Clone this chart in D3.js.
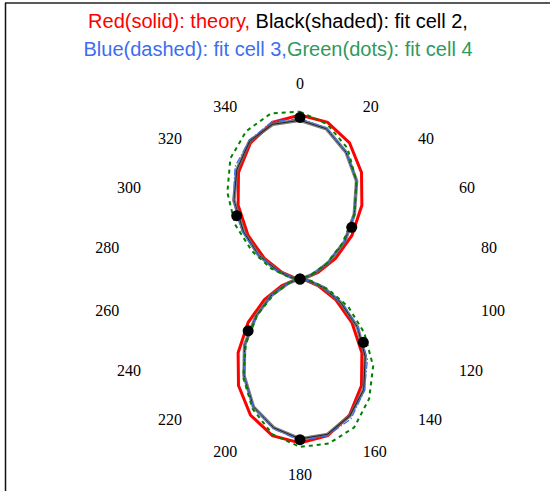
<!DOCTYPE html>
<html>
<head>
<meta charset="utf-8">
<script src="https://cdn.jsdelivr.net/npm/d3@7"></script>
<style>
  body { margin: 0; background: #fff; }
  svg { display: block; }
</style>
</head>
<body>
<svg id="chart"></svg>
<script>
const width = 550, height = 491;
const cx = 300, cy = 279;

// sampled angles (degrees, clockwise from top)
const angles = d3.range(0, 360, 10);

const theory = [
	1.000, 0.970, 0.883, 0.750, 0.587, 0.413, 0.250, 0.117, 0.030,
	0.000, 0.030, 0.117, 0.250, 0.413, 0.587, 0.750, 0.883, 0.970,
	1.000, 0.970, 0.883, 0.750, 0.587, 0.413, 0.250, 0.117, 0.030,
	0.000, 0.030, 0.117, 0.250, 0.413, 0.587, 0.750, 0.883, 0.970
];
const fitCell2 = [
	0.968, 0.930, 0.822, 0.690, 0.515, 0.356, 0.198, 0.086, 0.016,
	0.004, 0.047, 0.152, 0.286, 0.458, 0.618, 0.778, 0.888, 0.962,
	0.975, 0.921, 0.830, 0.682, 0.526, 0.349, 0.205, 0.080, 0.014,
	0.003, 0.051, 0.146, 0.292, 0.450, 0.627, 0.770, 0.896, 0.958
];
const fitCell3 = [
	0.978, 0.935, 0.825, 0.688, 0.514, 0.352, 0.193, 0.081, 0.012,
	0.004, 0.056, 0.155, 0.304, 0.464, 0.640, 0.786, 0.908, 0.970,
	0.985, 0.928, 0.832, 0.681, 0.522, 0.345, 0.199, 0.077, 0.014,
	0.005, 0.052, 0.159, 0.298, 0.470, 0.632, 0.792, 0.902, 0.975
];
const fitCell4 = [
	1.020, 0.958, 0.848, 0.688, 0.518, 0.336, 0.186, 0.067, 0.009,
	0.007, 0.070, 0.182, 0.341, 0.512, 0.694, 0.843, 0.964, 1.018,
	1.024, 0.962, 0.844, 0.693, 0.513, 0.341, 0.182, 0.071, 0.008,
	0.008, 0.068, 0.186, 0.337, 0.517, 0.689, 0.849, 0.959, 1.025
];

// measured points
const pointAngles = [0, 45, 90, 135, 180, 225, 270, 315];
const pointValues = [0.985, 0.446, 0, 0.546, 0.98, 0.447, 0, 0.546];

const tickLabels = d3.range(0, 360, 20);

const svg = d3.select("#chart")
	.attr("width", width)
	.attr("height", height);

// frame
svg.append("line")
	.attr("x1", 5).attr("y1", 3).attr("x2", width).attr("y2", 3)
	.attr("stroke", "#222").attr("stroke-width", 1.5);
svg.append("line")
	.attr("x1", 5.5).attr("y1", 3).attr("x2", 5.5).attr("y2", height)
	.attr("stroke", "#111").attr("stroke-width", 1.5);

// title
const title = svg.append("g")
	.attr("font-family", "Liberation Sans, Arial, sans-serif")
	.attr("font-size", 20)
	.attr("text-anchor", "middle");

const line1 = title.append("text").attr("x", 278).attr("y", 28);
line1.append("tspan").attr("fill", "#ff0000").text("Red(solid): theory, ");
line1.append("tspan").attr("fill", "#000").text("Black(shaded): fit cell 2,");

const line2 = title.append("text").attr("x", 278).attr("y", 56);
line2.append("tspan").attr("fill", "#3d6ef0").text("Blue(dashed): fit cell 3,");
line2.append("tspan").attr("fill", "#2e9a5c").text("Green(dots): fit cell 4");

const plot = svg.append("g").attr("transform", `translate(${cx}, ${cy})`);

const r = d3.scaleLinear().domain([0, 1]).range([0, 164]);
const rad = d => d * Math.PI / 180;

const radial = d3.lineRadial()
	.angle((d, i) => rad(angles[i]))
	.radius(d => r(d))
	.curve(d3.curveLinearClosed);

// angle labels: left/right aligned on the sides, centred (and pushed out) at top and bottom
const labelR = r(1.12);
const side = d => {
	const s = Math.sin(rad(d));
	return s > 0.01 ? 1 : s < -0.01 ? -1 : 0;
};
plot.selectAll(".tick-label")
	.data(tickLabels)
	.enter()
	.append("text")
	.attr("class", "tick-label")
	.attr("font-family", "Liberation Serif, Times New Roman, serif")
	.attr("font-size", 16)
	.attr("text-anchor", d => side(d) > 0 ? "start" : side(d) < 0 ? "end" : "middle")
	.attr("dominant-baseline", "central")
	.attr("x", d => labelR * Math.sin(rad(d)))
	.attr("y", d => -(side(d) === 0 ? labelR + 12 : labelR) * Math.cos(rad(d)))
	.text(d => d);

// theory
plot.append("path")
	.attr("d", radial(theory))
	.attr("fill", "none")
	.attr("stroke", "#ff0000")
	.attr("stroke-width", 3);

// fit cell 2 (shaded black)
plot.append("path")
	.attr("d", radial(fitCell2))
	.attr("fill", "none")
	.attr("stroke", "#666")
	.attr("stroke-width", 3.5)
	.attr("stroke-opacity", 0.85);
plot.append("path")
	.attr("d", radial(fitCell2))
	.attr("fill", "none")
	.attr("stroke", "#222")
	.attr("stroke-width", 1);

// fit cell 3
plot.append("path")
	.attr("d", radial(fitCell3))
	.attr("fill", "none")
	.attr("stroke", "#3d6ef0")
	.attr("stroke-width", 1.2)
	.attr("stroke-dasharray", "7,2,1.5,2");

// fit cell 4
plot.append("path")
	.attr("d", radial(fitCell4))
	.attr("fill", "none")
	.attr("stroke", "#008000")
	.attr("stroke-width", 2)
	.attr("stroke-dasharray", "4,4");

// measured points
plot.selectAll(".pt")
	.data(pointValues)
	.enter()
	.append("circle")
	.attr("class", "pt")
	.attr("cx", (d, i) => r(d) * Math.sin(rad(pointAngles[i])))
	.attr("cy", (d, i) => -r(d) * Math.cos(rad(pointAngles[i])))
	.attr("r", 5.5)
	.attr("fill", "#000");
</script>
</body>
</html>
